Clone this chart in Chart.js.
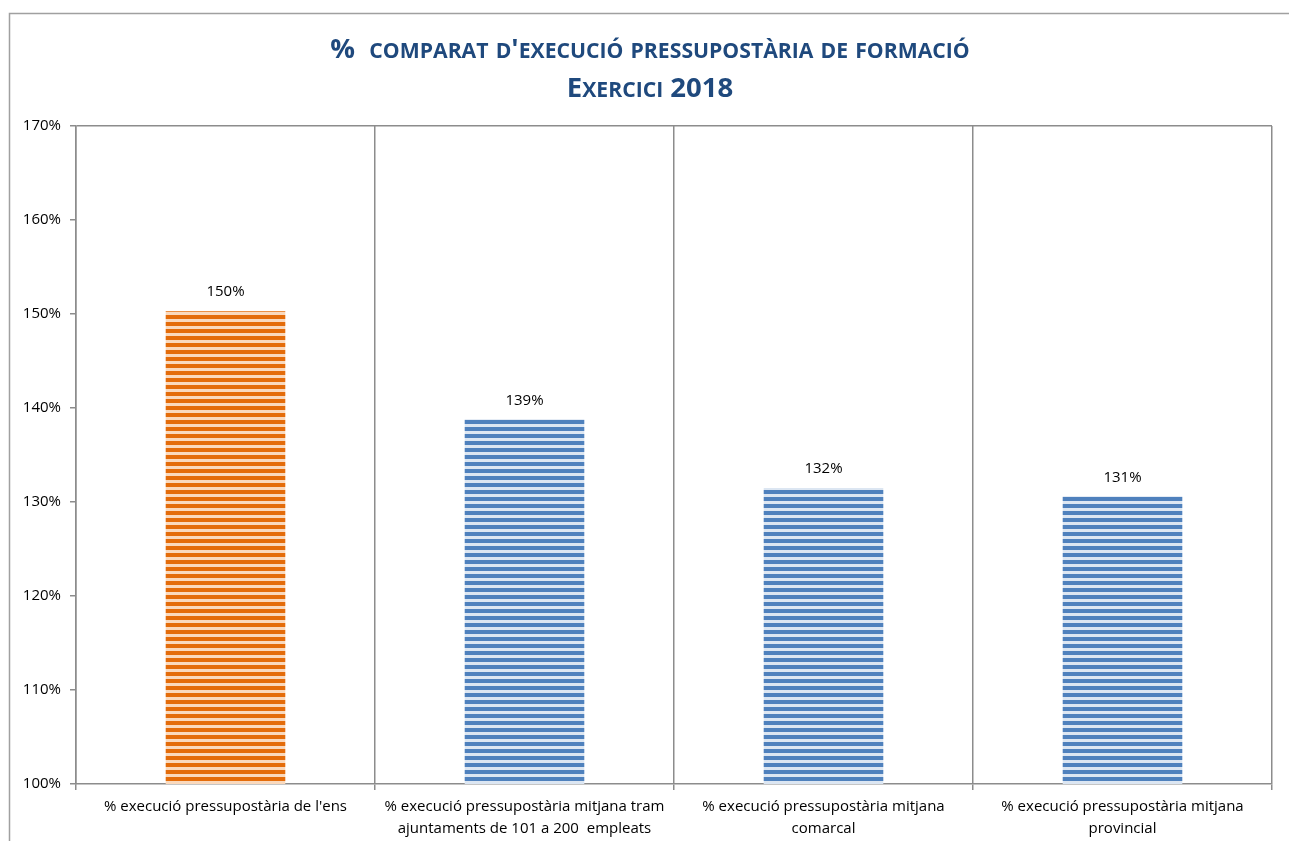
<!DOCTYPE html>
<html>
<head>
<meta charset="utf-8">
<script src="https://cdn.jsdelivr.net/npm/chart.js@4.4.1/dist/chart.umd.min.js"></script>
<style>
  html, body { margin: 0; padding: 0; background: #fff; overflow: hidden; }
  #wrap { position: absolute; left: 0; top: 0; width: 1289px; height: 841px; }
</style>
</head>
<body>
<div id="wrap"><canvas id="c" width="1289" height="841"></canvas></div>
<script>
const titleLines = ["%  comparat d'execució pressupostària de formació", "Exercici 2018"];
const categories = [
  ["% execució pressupostària de l'ens"],
  ["% execució pressupostària mitjana tram", "ajuntaments de 101 a 200  empleats"],
  ["% execució pressupostària mitjana", "comarcal"],
  ["% execució pressupostària mitjana", "provincial"]
];
const values = [150.3, 138.8, 131.5, 130.6];
const valueLabels = ["150%", "139%", "132%", "131%"];
const yTicks = [100, 110, 120, 130, 140, 150, 160, 170];

function stripes(dark, light) {
  const p = document.createElement('canvas');
  p.width = 4; p.height = 7;
  const g = p.getContext('2d');
  g.fillStyle = light; g.fillRect(0, 0, 4, 7);
  g.fillStyle = dark; g.fillRect(0, 0, 4, 4);
  return document.getElementById('c').getContext('2d').createPattern(p, 'repeat');
}
const orange = stripes('#E46C0A', '#FAD9BD');
const blue = stripes('#4F81BD', '#DCE6F2');
const barColors = [orange, blue, blue, blue];

const TITLEFONT = "'Open Sans', 'Liberation Sans', sans-serif";
const LABELFONT = "'Open Sans', 'Liberation Sans', sans-serif";
const GRID = '#8c8c8c';

const framePlugin = {
  id: 'frame',
  beforeDraw(chart) {
    const ctx = chart.ctx;
    ctx.save();
    ctx.strokeStyle = '#a0a0a0';
    ctx.lineWidth = 1.5;
    ctx.beginPath();
    ctx.moveTo(9.5, 841);
    ctx.lineTo(9.5, 13.5);
    ctx.lineTo(1289, 13.5);
    ctx.stroke();
    ctx.restore();
  }
};

// Title drawn in small caps (lowercase letters rendered as smaller capitals)
const smallCapsTitlePlugin = {
  id: 'smallCapsTitle',
  afterDraw(chart) {
    const ctx = chart.ctx;
    const big = 27.5, small = 21.2;
    const centers = [48, 87];
    const cx = (9 + 1289) / 2 + 1;
    ctx.save();
    ctx.fillStyle = '#1F497D';
    ctx.textBaseline = 'alphabetic';
    ctx.textAlign = 'left';
    titleLines.forEach((line, li) => {
      const runs = [];
      for (const ch of line) {
        const isLower = ch !== ch.toUpperCase();
        const last = runs[runs.length - 1];
        if (last && last.lower === isLower) last.text += ch;
        else runs.push({ text: ch, lower: isLower });
      }
      let total = 0;
      runs.forEach(r => {
        ctx.font = 'bold ' + (r.lower ? small : big) + 'px ' + TITLEFONT;
        r.t = r.lower ? r.text.toUpperCase() : r.text;
        r.w = ctx.measureText(r.t).width;
        total += r.w;
      });
      let x = cx - total / 2;
      const base = centers[li] + big * 0.714 / 2;
      runs.forEach(r => {
        ctx.font = 'bold ' + (r.lower ? small : big) + 'px ' + TITLEFONT;
        ctx.fillText(r.t, x, base);
        x += r.w;
      });
    });
    ctx.restore();
  }
};

const valueLabelPlugin = {
  id: 'valueLabels',
  afterDatasetsDraw(chart) {
    const ctx = chart.ctx;
    const meta = chart.getDatasetMeta(0);
    ctx.save();
    ctx.font = "15px " + LABELFONT;
    ctx.fillStyle = '#000';
    ctx.textAlign = 'center';
    ctx.textBaseline = 'middle';
    meta.data.forEach((bar, i) => {
      ctx.fillText(valueLabels[i], bar.x, bar.y - 19);
    });
    ctx.restore();
  }
};

new Chart(document.getElementById('c'), {
  type: 'bar',
  data: {
    labels: categories,
    datasets: [{
      data: values,
      backgroundColor: barColors,
      borderWidth: 0,
      categoryPercentage: 1.0,
      barPercentage: 0.4
    }]
  },
  options: {
    responsive: false,
    animation: false,
    devicePixelRatio: 1,
    layout: { padding: { left: 10, right: 17, top: 126, bottom: 0 } },
    plugins: {
      legend: { display: false },
      tooltip: { enabled: false },
      title: { display: false }
    },
    scales: {
      x: {
        offset: true,
        grid: {
          display: true,
          offset: true,
          color: GRID,
          tickColor: GRID,
          lineWidth: 1.5,
          tickLength: 6,
          drawOnChartArea: true
        },
        border: { display: true, color: GRID, width: 1.5 },
        ticks: {
          color: '#000',
          font: { family: LABELFONT, size: 15, lineHeight: 1.5 },
          padding: 5,
          maxRotation: 0,
          autoSkip: false
        },
        afterFit(scale) { scale.height = 57; }
      },
      y: {
        min: 100,
        max: 170,
        afterBuildTicks(scale) { scale.ticks = yTicks.map(v => ({ value: v })); },
        grid: {
          color: ctx => (ctx.tick && ctx.tick.value === 170) ? GRID : 'rgba(0,0,0,0)',
          tickColor: GRID,
          lineWidth: 1.5,
          tickLength: 6,
          drawOnChartArea: true
        },
        border: { display: true, color: GRID, width: 1.5 },
        ticks: {
          color: '#000',
          font: { family: LABELFONT, size: 15 },
          padding: 9,
          callback: v => v + '%'
        },
        afterFit(scale) { scale.width = 66; }
      }
    }
  },
  plugins: [framePlugin, smallCapsTitlePlugin, valueLabelPlugin]
});
</script>
</body>
</html>
